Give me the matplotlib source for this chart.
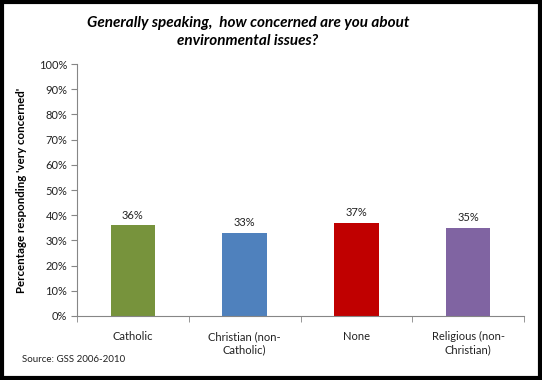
import matplotlib.pyplot as plt
from matplotlib.patches import Rectangle
from matplotlib.ticker import MultipleLocator, FuncFormatter

categories = ["Catholic", "Christian (non-\nCatholic)", "None", "Religious (non-\nChristian)"]
values = [36, 33, 37, 35]
colors = ["#77933C", "#4F81BD", "#C00000", "#8064A2"]

plt.rcParams['font.family'] = ['Lato', 'DejaVu Sans']

W, H = 542, 380
fig = plt.figure(figsize=(W / 100, H / 100), dpi=100)
ax = fig.add_axes([77 / W, 1 - 316 / H, (524 - 77) / W, (316 - 64) / H])

x = range(len(values))
ax.bar(x, values, width=0.4, color=colors, zorder=2)
for xi, v in zip(x, values):
    ax.text(xi, v + 1.8, f"{v}%", ha="center", va="bottom", fontsize=8, color="#222222")

ax.set_xlim(-0.5, len(values) - 0.5)
ax.set_ylim(0, 100)
ax.yaxis.set_major_locator(MultipleLocator(10))
ax.yaxis.set_major_formatter(FuncFormatter(lambda v, p: f"{int(v)}%"))
ax.set_xticks(list(x))
ax.set_xticklabels(categories, fontsize=8, color="#222222")
ax.set_xticks([i - 0.5 for i in range(len(values) + 1)], minor=True)
ax.tick_params(axis="x", which="major", length=0, pad=11)
ax.tick_params(axis="x", which="minor", length=4, color="#868686", direction="out")
ax.tick_params(axis="y", length=4, color="#868686", labelsize=8, labelcolor="#222222", pad=3)

for s in ["top", "right"]:
    ax.spines[s].set_visible(False)
for s in ["left", "bottom"]:
    ax.spines[s].set_color("#868686")
    ax.spines[s].set_linewidth(0.8)

fig.text(22 / W, 1 - 190 / H, "Percentage responding 'very concerned'", rotation=90,
         ha="center", va="center", fontsize=8.3, fontweight="bold")

fig.text(248 / W, 1 - 32 / H, "Generally speaking,  how concerned are you about\nenvironmental issues?",
         ha="center", va="center", fontsize=11, fontweight="bold", style="italic",
         linespacing=1.35)

fig.text(22 / W, 1 - 359 / H, "Source: GSS 2006-2010", ha="left", va="center", fontsize=7,
         color="#222222")

fig.patches.append(Rectangle((2 / W, 2 / H), (W - 4) / W, (H - 4) / H, transform=fig.transFigure,
                             fill=False, edgecolor="black", linewidth=3))

fig.savefig("out.png", dpi=100)
